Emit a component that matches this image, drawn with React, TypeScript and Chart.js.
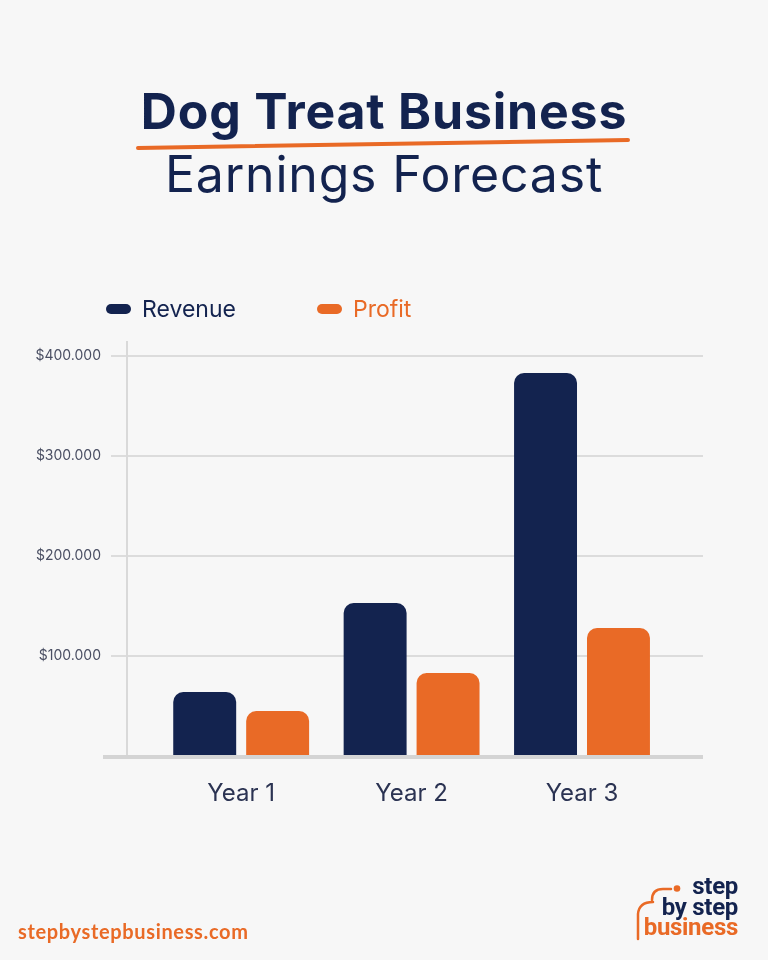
import React, { useEffect, useRef } from "react";
import { Chart, registerables } from "chart.js";

Chart.register(...registerables);

const categories = ["Year 1", "Year 2", "Year 3"];
const revenue = [64000, 153000, 383000];
const profit = [45000, 83000, 128000];
const yTickValues = [100000, 200000, 300000, 400000];
const yTickLabels = ["$100.000", "$200.000", "$300.000", "$400.000"];
const seriesNames = ["Revenue", "Profit"];

const NAVY = "#13234f";
const ORANGE = "#e96a26";
const BG = "#f7f7f7";

const baselinePlugin = {
  id: "baseline",
  afterDatasetsDraw(chart: any) {
    const { ctx, chartArea, scales } = chart;
    const y = scales.y.getPixelForValue(0) + 1;
    ctx.save();
    ctx.strokeStyle = "#d4d4d4";
    ctx.lineWidth = 4;
    ctx.beginPath();
    ctx.moveTo(chartArea.left - 24, y);
    ctx.lineTo(chartArea.right, y);
    ctx.stroke();
    ctx.restore();
  },
};

export default function App() {
  const ref = useRef<HTMLCanvasElement | null>(null);

  useEffect(() => {
    document.body.style.margin = "0";
    document.body.style.background = BG;
    const canvas = ref.current;
    if (!canvas) return;
    const chart = new Chart(canvas, {
      type: "bar",
      data: {
        datasets: [
          {
            label: seriesNames[0],
            data: revenue.map((v, i) => ({ x: i + 1, y: v })),
            backgroundColor: NAVY,
            borderRadius: 10,
            borderSkipped: "start",
            categoryPercentage: 0.856,
            barPercentage: 0.863,
          },
          {
            label: seriesNames[1],
            data: profit.map((v, i) => ({ x: i + 1, y: v })),
            backgroundColor: ORANGE,
            borderRadius: 10,
            borderSkipped: "start",
            categoryPercentage: 0.856,
            barPercentage: 0.863,
          },
        ] as any,
      },
      options: {
        animation: false,
        responsive: false,
        devicePixelRatio: 1,
        layout: { padding: { left: 27, right: 65, top: 342, bottom: 144 } },
        plugins: {
          legend: { display: false },
          tooltip: { enabled: false },
          title: { display: false },
        },
        scales: {
          x: {
            type: "linear",
            min: 0.33,
            max: 3.71,
            bounds: "data",
            offset: false,
            afterDataLimits: (scale: any) => {
              scale.min = 0.33;
              scale.max = 3.71;
            },
            afterBuildTicks: (scale: any) => {
              scale.ticks = categories.map((_, i) => ({ value: i + 1 }));
            },
            afterFit: (scale: any) => {
              scale.height = 60;
            },
            grid: { display: false, offset: false },
            border: { display: false },
            ticks: {
              padding: 15,
              color: "#2b3352",
              font: { family: "Inter", size: 24 },
              callback: (v: any) => categories[Number(v) - 1] ?? "",
            },
          },
          y: {
            min: 0,
            max: 414000,
            afterBuildTicks: (scale: any) => {
              scale.ticks = yTickValues.map((v) => ({ value: v }));
            },
            afterFit: (scale: any) => {
              scale.width = 100;
            },
            grid: {
              color: "#dcdcdc",
              lineWidth: 2,
              tickLength: 16,
            },
            border: { display: true, color: "#d9d9d9", width: 2 },
            ticks: {
              padding: 10,
              color: "#4a4f63",
              font: { family: "Inter", size: 14 },
              callback: (v: any) => {
                const idx = yTickValues.indexOf(Number(v));
                return idx >= 0 ? yTickLabels[idx] : "";
              },
            },
          },
        },
      } as any,
      plugins: [baselinePlugin],
    });
    return () => chart.destroy();
  }, []);

  const legendItem = (name: string, color: string, left: number) => (
    <div
      key={name}
      style={{
        position: "absolute",
        left,
        top: 295,
        height: 28,
        display: "flex",
        alignItems: "center",
      }}
    >
      <span
        style={{
          display: "inline-block",
          width: 25,
          height: 10,
          borderRadius: 5,
          background: color,
          marginRight: 11,
        }}
      />
      <span
        style={{
          fontFamily: "Inter",
          fontSize: 23,
          color,
          lineHeight: "28px",
        }}
      >
        {name}
      </span>
    </div>
  );

  return (
    <div
      style={{
        position: "relative",
        width: 768,
        height: 960,
        background: BG,
        overflow: "hidden",
      }}
    >
      <canvas
        ref={ref}
        width={768}
        height={960}
        style={{ position: "absolute", left: 0, top: 0, width: 768, height: 960 }}
      />
      <div
        style={{
          position: "absolute",
          left: 0,
          width: 768,
          top: 86,
          textAlign: "center",
          fontFamily: "Inter",
          fontWeight: 700,
          fontSize: 50,
          lineHeight: "50px",
          color: NAVY,
          letterSpacing: 0.8,
        }}
      >
        Dog Treat Business
      </div>
      <svg
        width={768}
        height={960}
        style={{ position: "absolute", left: 0, top: 0, pointerEvents: "none" }}
      >
        <line
          x1={138}
          y1={148}
          x2={628}
          y2={140}
          stroke={ORANGE}
          strokeWidth={4}
          strokeLinecap="round"
        />
        <circle cx={677} cy={888.5} r={3.3} fill={ORANGE} />
        <path
          d="M 671 889 L 663 889 Q 652 889 652 900"
          fill="none"
          stroke={ORANGE}
          strokeWidth={2.5}
          strokeLinecap="round"
        />
        <path
          d="M 653 902 Q 639 902 638 914 L 638 939"
          fill="none"
          stroke={ORANGE}
          strokeWidth={2.5}
          strokeLinecap="round"
        />
      </svg>
      <div
        style={{
          position: "absolute",
          left: 0,
          width: 768,
          top: 149,
          textAlign: "center",
          fontFamily: "Inter",
          fontWeight: 400,
          fontSize: 50,
          lineHeight: "50px",
          color: NAVY,
          letterSpacing: 0.8,
        }}
      >
        Earnings Forecast
      </div>
      {legendItem(seriesNames[0], NAVY, 106)}
      {legendItem(seriesNames[1], ORANGE, 317)}
      <div
        style={{
          position: "absolute",
          left: 18,
          top: 919,
          fontFamily: "Lato",
          fontWeight: 700,
          fontSize: 20,
          lineHeight: "24px",
          color: ORANGE,
          letterSpacing: 0.65,
        }}
      >
        stepbystepbusiness.com
      </div>
      <div
        style={{
          position: "absolute",
          right: 768 - 738,
          top: 876,
          textAlign: "right",
          fontFamily: "Roboto",
          fontWeight: 700,
          fontSize: 24,
          lineHeight: "20.5px",
          letterSpacing: -0.3,
        }}
      >
        <div style={{ color: NAVY }}>step</div>
        <div style={{ color: NAVY }}>by step</div>
        <div style={{ color: ORANGE }}>business</div>
      </div>
    </div>
  );
}
